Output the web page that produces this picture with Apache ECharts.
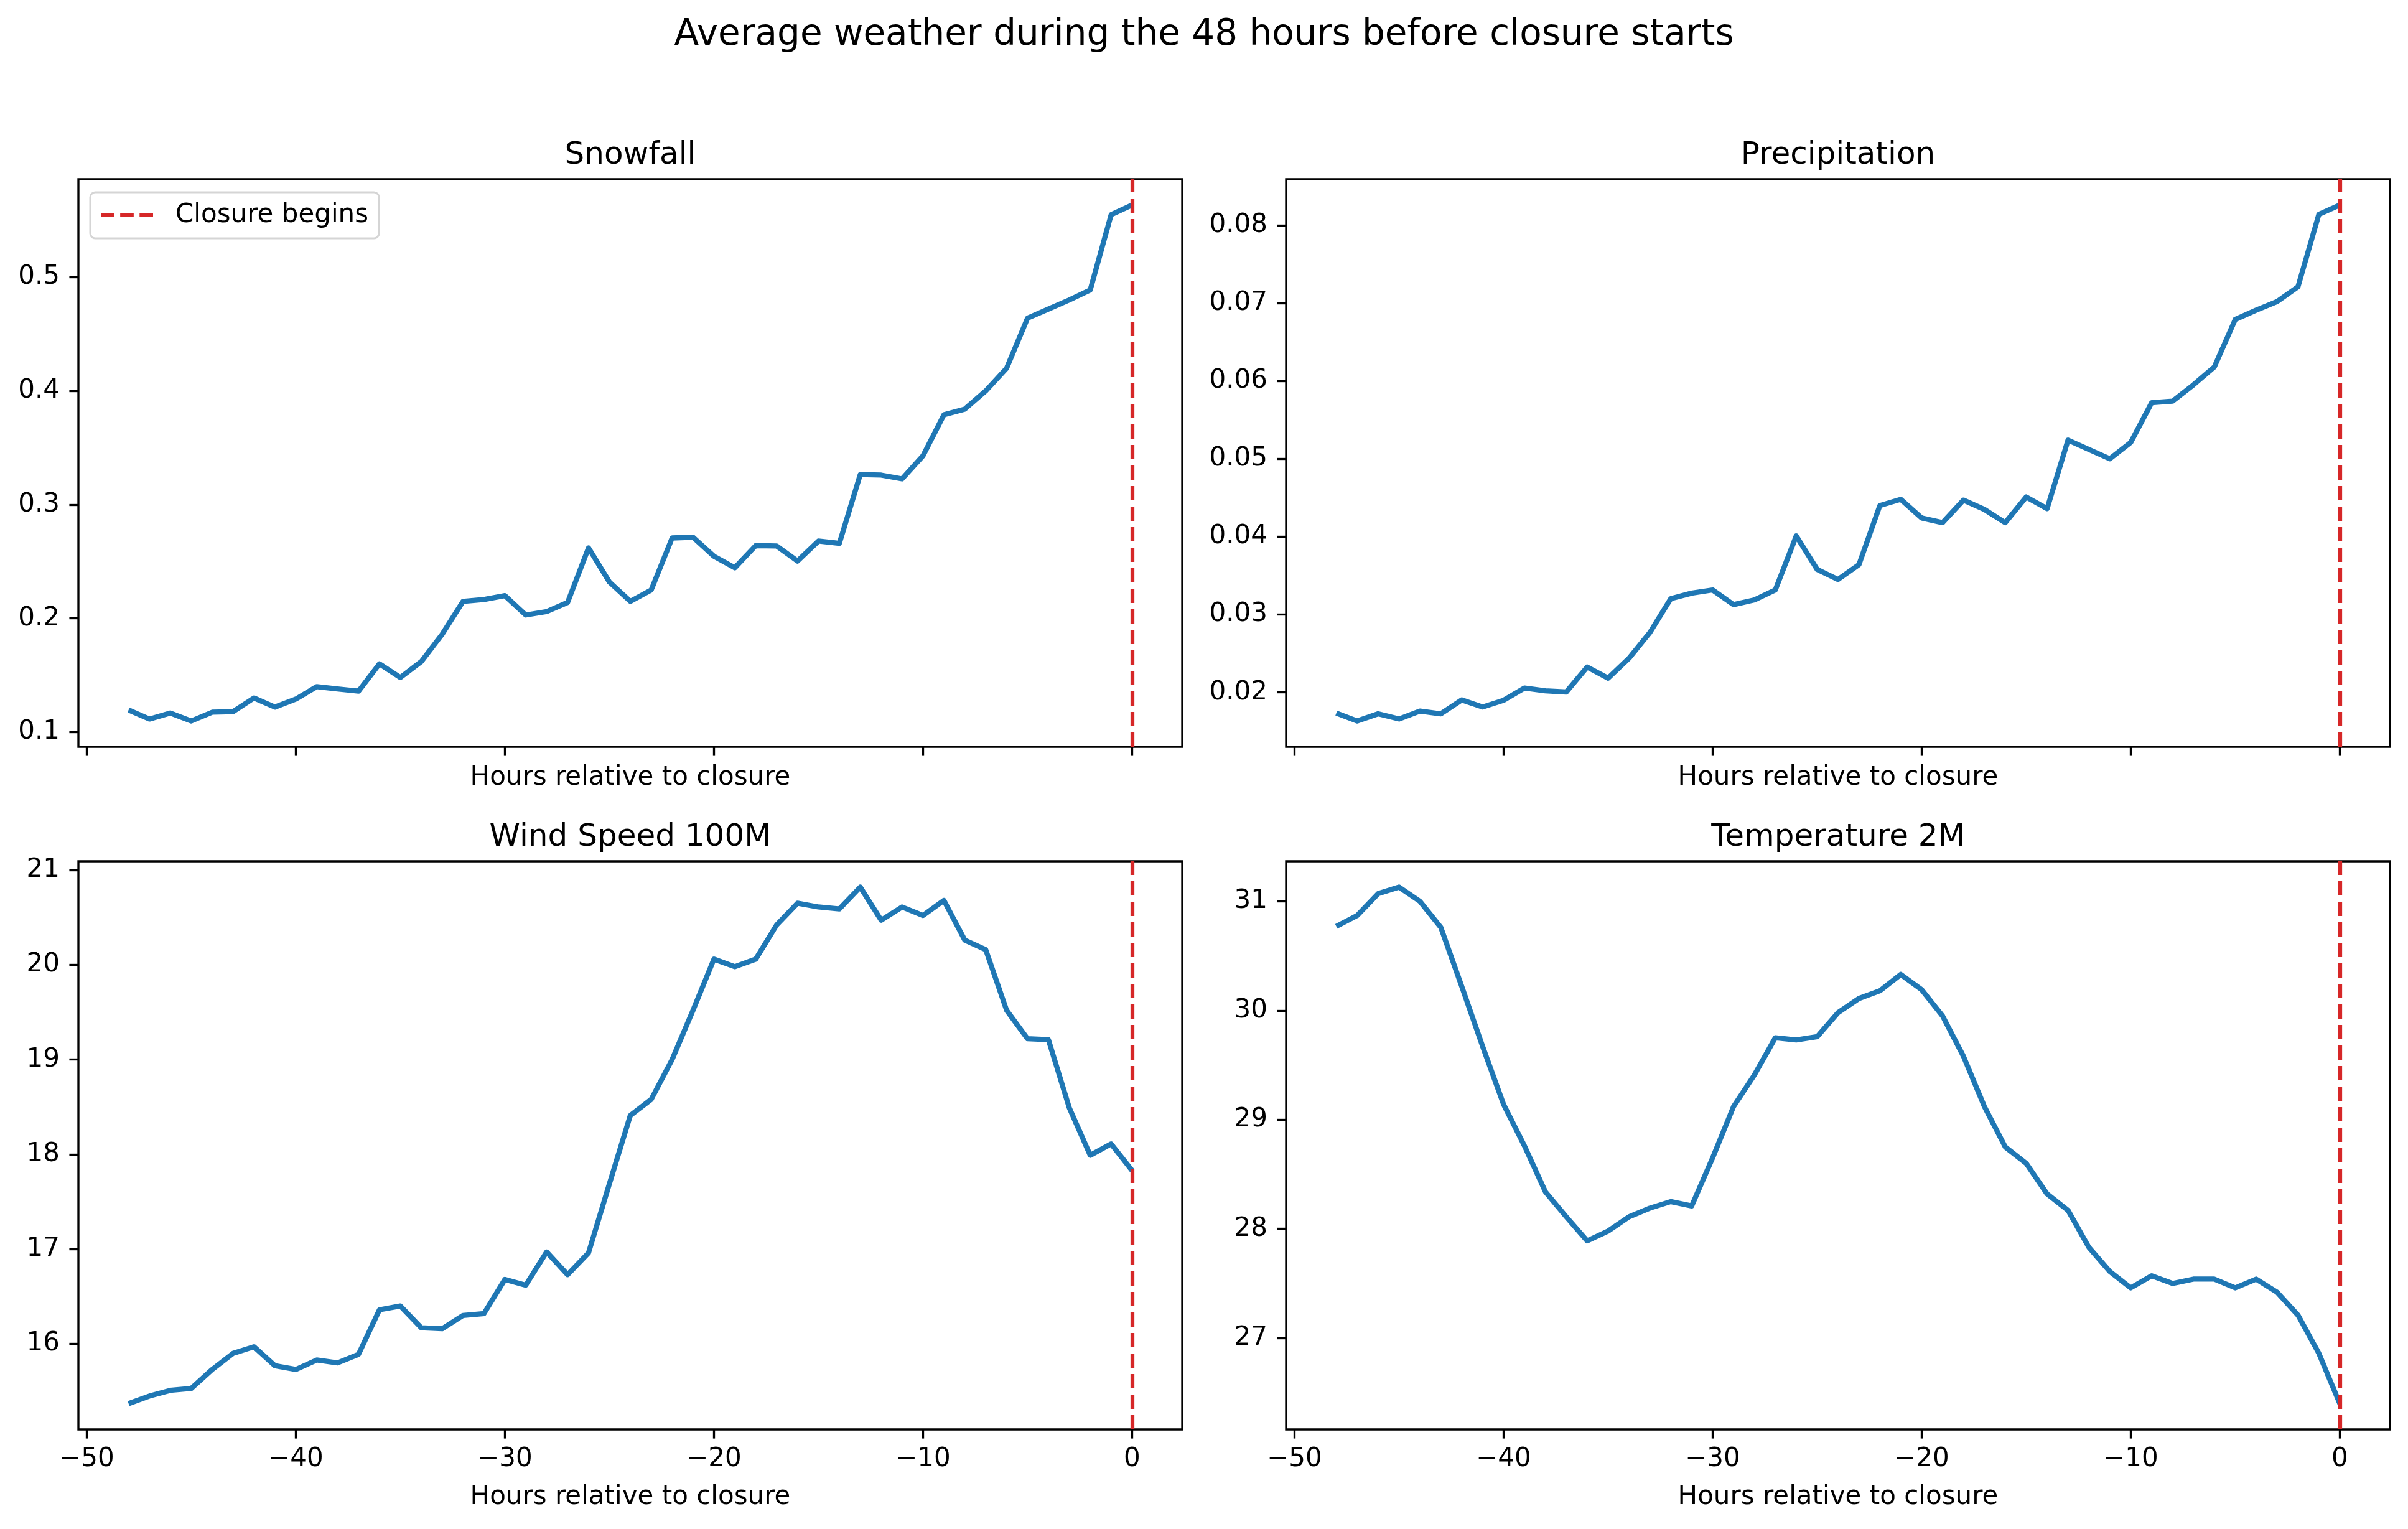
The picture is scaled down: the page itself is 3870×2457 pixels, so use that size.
<!DOCTYPE html>
<html>
<head>
<meta charset="utf-8">
<title>Average weather during the 48 hours before closure starts</title>
<script src="https://cdn.jsdelivr.net/npm/echarts@6/dist/echarts.min.js"></script>
<style>
  html, body { margin: 0; padding: 0; background: #fff; }
  #chart { width: 3870px; height: 2457px; }
</style>
</head>
<body>
<div id="chart"></div>
<script>
// hours before closure (x axis)
const hours = [-48, -47, -46, -45, -44, -43, -42, -41, -40, -39, -38, -37, -36, -35, -34, -33, -32,
  -31, -30, -29, -28, -27, -26, -25, -24, -23, -22, -21, -20, -19, -18, -17, -16, -15, -14, -13,
  -12, -11, -10, -9, -8, -7, -6, -5, -4, -3, -2, -1, 0]
const closureHour = 0

const snowfall = [0.1195, 0.1115, 0.1168, 0.1098, 0.1175, 0.118, 0.130, 0.122, 0.129, 0.140, 0.138,
  0.136, 0.160, 0.148, 0.162, 0.186, 0.215, 0.2166, 0.220, 0.203, 0.206, 0.214, 0.262, 0.232, 0.215,
  0.225, 0.2707, 0.2714, 0.2546, 0.2445, 0.264, 0.2637, 0.2504, 0.268, 0.266, 0.3265, 0.326, 0.3227,
  0.343, 0.379, 0.384, 0.400, 0.420, 0.464, 0.472, 0.480, 0.4888, 0.555, 0.5635]
const precipitation = [0.01735, 0.01633, 0.01725, 0.01659, 0.01761, 0.01725, 0.01903, 0.01812,
  0.01898, 0.02056, 0.0202, 0.02005, 0.02326, 0.02183, 0.02438, 0.02769, 0.03204, 0.03275, 0.03316,
  0.03127, 0.03188, 0.03316, 0.0401, 0.0358, 0.0345, 0.0364, 0.0440, 0.0448, 0.0424, 0.0418, 0.0447,
  0.0435, 0.0418, 0.0451, 0.0436, 0.0524, 0.0512, 0.0500, 0.0521, 0.0572, 0.0574, 0.0595, 0.0618,
  0.0679, 0.0691, 0.0702, 0.0721, 0.0814, 0.0826]
const windSpeed = [15.37, 15.45, 15.51, 15.53, 15.73, 15.90, 15.97, 15.77, 15.73, 15.83, 15.80, 15.89,
  16.36, 16.40, 16.17, 16.16, 16.30, 16.32, 16.68, 16.62, 16.97, 16.73, 16.96, 17.69, 18.41, 18.58,
  19.00, 19.52, 20.06, 19.98, 20.06, 20.42, 20.65, 20.61, 20.59, 20.82, 20.47, 20.61, 20.52, 20.68,
  20.26, 20.16, 19.52, 19.22, 19.21, 18.49, 17.99, 18.11, 17.83]
const temperature = [30.77, 30.87, 31.07, 31.13, 31.00, 30.76, 30.22, 29.67, 29.14, 28.76, 28.34,
  28.11, 27.89, 27.98, 28.11, 28.19, 28.25, 28.21, 28.65, 29.12, 29.41, 29.75, 29.73, 29.76, 29.98,
  30.11, 30.18, 30.33, 30.19, 29.95, 29.58, 29.12, 28.75, 28.60, 28.32, 28.17, 27.83, 27.61, 27.46,
  27.57, 27.50, 27.54, 27.54, 27.46, 27.54, 27.42, 27.21, 26.86, 26.40]

// tick labels
const xTicks = [-50, -40, -30, -20, -10, 0]
const snowTicks = [0.1, 0.2, 0.3, 0.4, 0.5]
const precipTicks = [0.02, 0.03, 0.04, 0.05, 0.06, 0.07, 0.08]
const windTicks = [16, 17, 18, 19, 20, 21]
const tempTicks = [27, 28, 29, 30, 31]

const FONT = 'DejaVu Sans'
const BLUE = '#1f77b4'
const RED = '#d62728'

const panels = [
  { title: 'Snowfall', values: snowfall, ticks: snowTicks, dec: 1 },
  { title: 'Precipitation', values: precipitation, ticks: precipTicks, dec: 2 },
  { title: 'Wind Speed 100M', values: windSpeed, ticks: windTicks, dec: 0 },
  { title: 'Temperature 2M', values: temperature, ticks: tempTicks, dec: 0 }
]
// axes boxes (px)
const boxes = [
  { left: 126, top: 288, width: 1774, height: 912 },
  { left: 2067, top: 288, width: 1774, height: 912 },
  { left: 126, top: 1384, width: 1774, height: 913 },
  { left: 2067, top: 1384, width: 1774, height: 913 }
]

// matplotlib style 5% autoscale margins
function padded(arr) {
  const lo = Math.min(...arr)
  const hi = Math.max(...arr)
  const m = (hi - lo) * 0.05
  return [lo - m, hi + m]
}
const xRange = padded(hours)

const grids = []
const xAxes = []
const yAxes = []
const series = []
const graphics = [{
  type: 'text', x: 1935, y: 57,
  style: { text: 'Average weather during the 48 hours before closure starts', fontSize: 58,
    fontFamily: FONT, fill: '#000', align: 'center', verticalAlign: 'middle' }
}]

panels.forEach((p, i) => {
  const b = boxes[i]
  const bottomRow = i >= 2
  const yr = padded(p.values)
  grids.push({ left: b.left, top: b.top, width: b.width, height: b.height, show: true,
    borderColor: '#000', borderWidth: 3.33, backgroundColor: 'transparent' })
  xAxes.push({
    type: 'value', gridIndex: i, min: xRange[0], max: xRange[1], position: 'bottom',
    splitLine: { show: false }, axisLine: { show: false, onZero: false },
    axisTick: { show: true, customValues: xTicks, length: 14.6, lineStyle: { color: '#000', width: 3.33 } },
    axisLabel: { show: bottomRow, customValues: xTicks, margin: 27, fontSize: 42, color: '#000',
      fontFamily: FONT, formatter: v => String(v).replace('-', '\u2212') },
    name: 'Hours relative to closure', nameLocation: 'middle', nameGap: bottomRow ? 88 : 29,
    nameTextStyle: { fontSize: 42, color: '#000', fontFamily: FONT }
  })
  yAxes.push({
    type: 'value', gridIndex: i, min: yr[0], max: yr[1], position: 'left',
    splitLine: { show: false }, axisLine: { show: false, onZero: false },
    axisTick: { show: true, customValues: p.ticks, length: 14.6, lineStyle: { color: '#000', width: 3.33 } },
    axisLabel: { customValues: p.ticks, margin: 30, fontSize: 42, color: '#000', fontFamily: FONT,
      formatter: v => v.toFixed(p.dec) }
  })
  series.push({
    type: 'line', name: p.title, xAxisIndex: i, yAxisIndex: i,
    data: hours.map((h, k) => [h, p.values[k]]),
    symbol: 'none', silent: true,
    lineStyle: { color: BLUE, width: 8.3, join: 'round' },
    markLine: {
      silent: true, symbol: ['none', 'none'], label: { show: false }, animation: false,
      lineStyle: { color: RED, width: 6.25, type: [23, 10] },
      emphasis: { disabled: true },
      data: [{ xAxis: closureHour }]
    }
  })
  graphics.push({
    type: 'text', x: b.left + b.width / 2, y: b.top - 38,
    style: { text: p.title, fontSize: 50, fontFamily: FONT, fill: '#000', align: 'center', verticalAlign: 'middle' }
  })
})

// legend entry only
series.push({ type: 'line', name: 'Closure begins', xAxisIndex: 0, yAxisIndex: 0, data: [],
  itemStyle: { color: RED }, lineStyle: { color: RED, width: 6.25, type: [23, 10] } })

const chart = echarts.init(document.getElementById('chart'), null, { renderer: 'canvas' })
chart.setOption({
  animation: false,
  backgroundColor: '#fff',
  grid: grids,
  xAxis: xAxes,
  yAxis: yAxes,
  series: series,
  graphic: graphics,
  legend: {
    data: ['Closure begins'], left: 145, top: 309, orient: 'vertical',
    padding: [16, 17, 16, 17], itemWidth: 84, itemHeight: 6,
    icon: 'path://M0,0H23V6H0Z M33,0H56V6H33Z M66,0H89V6H66Z', symbolKeepAspect: false,
    backgroundColor: '#fff', borderColor: '#d5d5d5', borderWidth: 3, borderRadius: 8,
    selectedMode: false, itemStyle: { color: RED, borderWidth: 0 },
    textStyle: { fontSize: 42, color: '#000', fontFamily: FONT, padding: [0, 0, 0, 31] }
  }
})
</script>
</body>
</html>
